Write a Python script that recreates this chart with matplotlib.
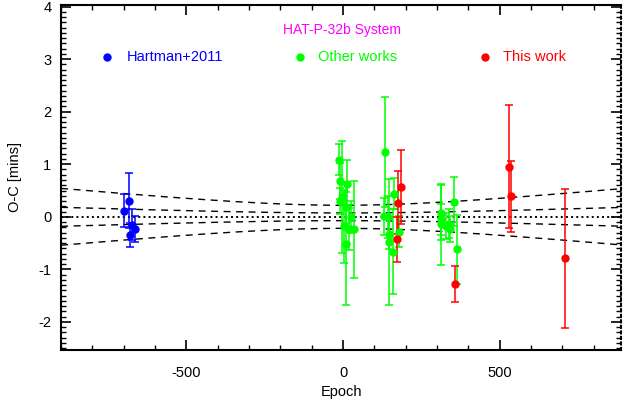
import matplotlib
matplotlib.use("Agg")
import matplotlib.pyplot as plt
import numpy as np

plt.rcParams['font.family'] = ['Liberation Sans', 'DejaVu Sans']
plt.rcParams['axes.unicode_minus'] = False

# Hartman+2011
hart_epoch = [-698, -684, -679, -673, -665]
hart_oc = [0.12, 0.31, -0.34, -0.15, -0.23]
hart_err = [0.32, 0.53, 0.23, 0.29, 0.25]

# other published timings
other_epoch = [-12, -10, -10, -2, 13, 11, 26, 4, 19, 34, 11,
               134, 132, 142, 147, 146, 160, 164, 179,
               312, 312, 312, 328, 339, 343, 354, 365]
other_oc = [1.09, 0.68, 0.30, 0.38, 0.62, 0.18, 0.00, -0.18, -0.24, -0.24, -0.52,
            1.23, 0.01, -0.01, -0.32, -0.48, -0.66, 0.44, -0.28,
            0.08, -0.05, -0.14, -0.18, -0.13, -0.23, 0.29, -0.62]
other_err = [0.29, 0.35, 0.25, 1.06, 0.47, 0.30, 0.30, 0.69, 0.40, 0.92, 1.15,
             1.05, 0.35, 0.40, 0.30, 1.20, 0.80, 0.29, 0.30,
             0.52, 0.30, 0.77, 0.25, 0.28, 0.25, 0.46, 0.66]

# this work
this_epoch = [171, 177, 185, 356, 530, 536, 709]
this_oc = [-0.43, 0.27, 0.57, -1.28, 0.95, 0.39, -0.79]
this_err = [0.43, 0.60, 0.70, 0.34, 1.17, 0.67, 1.32]

# ephemeris uncertainty (mins): sigma(E) = sqrt(sig_t0^2 + (E*sig_p)^2)
sig_t0 = 0.073
sig_p = 0.000183

fig = plt.figure(figsize=(6.24, 4.13), dpi=100)
ax = fig.add_axes([0.098, 0.153, 0.897, 0.835])

xlim = (-900, 887)
ee = np.linspace(xlim[0], xlim[1], 400)
sig = np.sqrt(sig_t0**2 + (ee * sig_p)**2)
for k in [1, 3]:
    ax.plot(ee, k * sig, 'k--', lw=1, dashes=(5, 4))
    ax.plot(ee, -k * sig, 'k--', lw=1, dashes=(5, 4))
ax.axhline(0, color='k', ls=':', lw=1.4)

for ep, oc, err, col in [(hart_epoch, hart_oc, hart_err, 'blue'),
                         (other_epoch, other_oc, other_err, 'lime'),
                         (this_epoch, this_oc, this_err, 'red')]:
    ax.errorbar(ep, oc, yerr=err, fmt='o', color=col, ms=5, lw=1.1,
                capsize=3.2, capthick=1.1)

ax.set_xlim(*xlim)
ax.set_ylim(-2.53, 4.03)
ax.set_xticks([-500, 0, 500])
ax.set_xticks(np.arange(-900, 900, 100), minor=True)
ax.set_yticks([-2, -1, 0, 1, 2, 3, 4])
ax.set_yticks(np.arange(-2.5, 4.05, 0.1), minor=True)
ax.tick_params(which='both', direction='in', top=True, right=True, labelsize=10.5)
ax.tick_params(which='major', length=7, width=1.2)
ax.tick_params(which='minor', length=3.5, width=1.0)
ax.tick_params(axis='x', which='major', pad=12)
ax.tick_params(axis='y', which='major', pad=7)
for s in ax.spines.values():
    s.set_linewidth(1.5)
ax.spines['right'].set_linestyle(':')

ax.set_xlabel("Epoch", fontsize=10.5, labelpad=3)
ax.set_ylabel("O-C [mins]", fontsize=10.5, labelpad=12)

ax.text(0.502, 0.928, "HAT-P-32b System", color='magenta', fontsize=10,
        ha='center', va='center', transform=ax.transAxes)
for xd, xt, lab, col in [(0.082, 0.118, "Hartman+2011", 'blue'),
                         (0.427, 0.459, "Other works", 'lime'),
                         (0.757, 0.789, "This work", 'red')]:
    ax.plot(xd, 0.849, 'o', color=col, ms=5, transform=ax.transAxes)
    ax.text(xt, 0.849, lab, color=col, fontsize=10.5, va='center',
            transform=ax.transAxes)

plt.savefig("out.png", dpi=100)
